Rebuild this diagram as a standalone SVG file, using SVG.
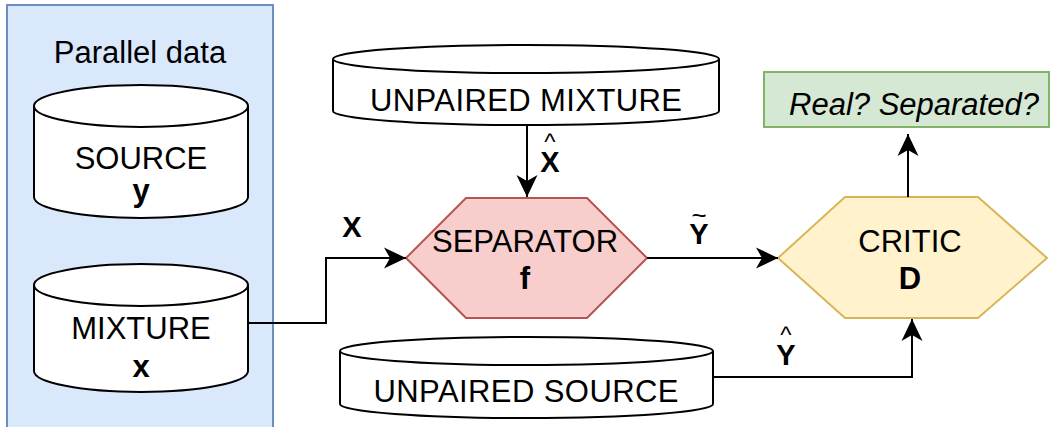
<svg xmlns="http://www.w3.org/2000/svg" width="1051" height="427" viewBox="0 0 1051 427">
  <style>
    text { font-family: "Liberation Sans", Arial, Helvetica, sans-serif; fill: #000; text-anchor: middle; }
    .t { font-size: 31px; }
    .b { font-size: 31px; font-weight: bold; }
    .lbl { font-size: 29px; font-weight: bold; }
    .acc { font-size: 24px; font-weight: normal; }
    .cyl { fill: #ffffff; stroke: #000; stroke-width: 2; }
    .edge { fill: none; stroke: #000; stroke-width: 2; }
  </style>
  <defs>
    <marker id="arrow" markerUnits="userSpaceOnUse" markerWidth="24" markerHeight="24" viewBox="-22 -12 24 24" refX="0" refY="0" orient="auto">
      <path d="M0,0 L-22,-10.5 L-16,0 L-22,10.5 Z" fill="#000"/>
    </marker>
  </defs>

  <!-- group container for the paired data -->
  <g id="parallel-data">
    <rect x="7" y="5" width="266" height="430" fill="#dae8fc" stroke="#6c8ebf" stroke-width="2"/>
    <text class="t" x="140" y="63">Parallel data</text>
  </g>

  <g id="source">
    <path class="cyl" d="M34,106 A107,21 0 0 1 248,106 L248,197 A107,21 0 0 1 34,197 Z"/>
    <path class="cyl" d="M34,106 A107,21 0 0 0 248,106" fill="none"/>
    <text class="t" x="141" y="169">SOURCE</text>
    <text class="b" x="141" y="201">y</text>
  </g>

  <g id="mixture">
    <path class="cyl" d="M34,285 A107,21 0 0 1 248,285 L248,371 A107,21 0 0 1 34,371 Z"/>
    <path class="cyl" d="M34,285 A107,21 0 0 0 248,285" fill="none"/>
    <text class="t" x="141" y="339">MIXTURE</text>
    <text class="b" x="141" y="377">x</text>
  </g>

  <g id="unpaired-mixture">
    <path class="cyl" d="M333,59 A193,14 0 0 1 719,59 L719,111 A193,14 0 0 1 333,111 Z"/>
    <path class="cyl" d="M333,59 A193,14 0 0 0 719,59" fill="none"/>
    <text class="t" x="526" y="111" textLength="312">UNPAIRED MIXTURE</text>
  </g>

  <g id="unpaired-source">
    <path class="cyl" d="M340,351 A186.5,14 0 0 1 713,351 L713,404 A186.5,14 0 0 1 340,404 Z"/>
    <path class="cyl" d="M340,351 A186.5,14 0 0 0 713,351" fill="none"/>
    <text class="t" x="526" y="402" textLength="305">UNPAIRED SOURCE</text>
  </g>

  <g id="separator">
    <polygon points="406,258 466,198 587,198 647,258 587,318 466,318" fill="#f8cecc" stroke="#b85450" stroke-width="2"/>
    <text class="t" x="525" y="252">SEPARATOR</text>
    <text class="b" x="525" y="289">f</text>
  </g>

  <g id="critic">
    <polygon points="778,258 845,197 978,197 1047,258 978,318 845,318" fill="#fff2cc" stroke="#d6b656" stroke-width="2"/>
    <text class="t" x="910" y="252">CRITIC</text>
    <text class="b" x="910" y="289">D</text>
  </g>

  <g id="verdict">
    <rect x="764" y="72" width="285" height="55" fill="#d5e8d4" stroke="#82b366" stroke-width="2"/>
    <text class="t" x="914" y="115" font-style="italic">Real? Separated?</text>
  </g>

  <g id="connectors">
    <path class="edge" d="M248,323 H326 V258 H406" marker-end="url(#arrow)"/>
    <path class="edge" d="M527,125 V197" marker-end="url(#arrow)"/>
    <path class="edge" d="M647,258 H778" marker-end="url(#arrow)"/>
    <path class="edge" d="M713,377 H912 V319" marker-end="url(#arrow)"/>
    <path class="edge" d="M908,197 V134" marker-end="url(#arrow)"/>

    <text class="lbl" x="352" y="237">X</text>
    <!-- accented labels: mark and letter stacked in one text -->
    <text class="lbl" x="550" y="150"><tspan class="acc">^</tspan><tspan x="550" dy="22">X</tspan></text>
    <text class="lbl" x="699" y="224"><tspan font-size="26px" font-weight="normal">~</tspan><tspan x="699" dy="20">Y</tspan></text>
    <text class="lbl" x="786" y="343"><tspan class="acc">^</tspan><tspan x="786" dy="22">Y</tspan></text>
  </g>
</svg>
